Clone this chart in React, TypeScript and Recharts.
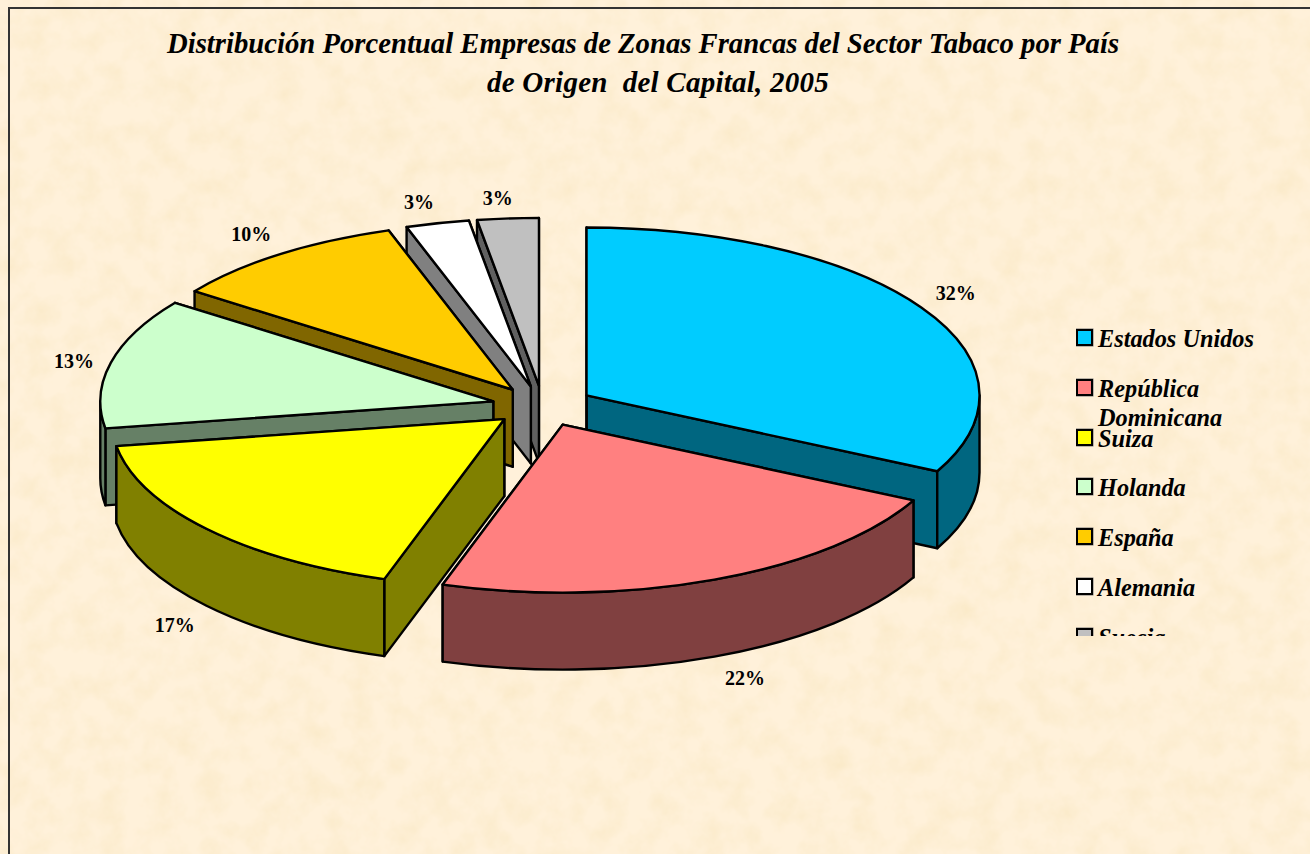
import React from "react";
import { Legend, Pie, PieChart } from "recharts";

const TITLE_LINES = [
  "Distribución Porcentual Empresas de Zonas Francas del Sector Tabaco por País",
  "de Origen  del Capital, 2005",
];

// legend reading order
const COUNTRIES = ["Estados Unidos", "República Dominicana", "Suiza", "Holanda", "España", "Alemania", "Suecia"];
const SHARES = [32.45, 22.49, 17.49, 12.55, 9.9, 2.6, 2.52];
const COLORS = ["#00CCFF", "#FF8080", "#FFFF00", "#CCFFCC", "#FFCC00", "#FFFFFF", "#C0C0C0"];

// slices are painted back to front, going counter-clockwise from the end of the first one
const DRAW_ORDER = [0, 6, 5, 4, 3, 2, 1];
const pieData = DRAW_ORDER.map((i) => ({ name: COUNTRIES[i], value: SHARES[i], fill: COLORS[i] }));

const WIDTH = 1310;
const HEIGHT = 854;
const RX = 393;
const SQUASH = 168 / 393;
const DEPTH = 77;
const EXPLODE_X = 0.13;
const EXPLODE_Y = 0.12;
const START_ANGLE = 90 - (360 * SHARES[0]) / 100;
const SERIF = "'Liberation Serif', serif";

const LABEL_NUDGE: Record<string, [number, number]> = {
  "Estados Unidos": [11, -1],
  "República Dominicana": [20, -2],
  Suiza: [-11, 3],
  Holanda: [-10, 4],
  España: [-13, 0],
  Alemania: [-12, 3],
  Suecia: [-8, 5],
};

const RAD = Math.PI / 180;

function halve(hex: string): string {
  const n = parseInt(hex.slice(1), 16);
  const c = [(n >> 16) & 255, (n >> 8) & 255, n & 255].map((v) => Math.round(v / 2));
  return `rgb(${c[0]},${c[1]},${c[2]})`;
}

function Slice3D(props: any) {
  const { cx, cy, outerRadius: r, startAngle, endAngle, fill } = props;
  const ry = r * SQUASH;
  const mid = ((startAngle + endAngle) / 2) * RAD;
  const ax = cx + EXPLODE_X * r * Math.cos(mid);
  const ay = cy - EXPLODE_Y * ry * Math.sin(mid);
  const px = (deg: number) => ax + r * Math.cos(deg * RAD);
  const py = (deg: number) => ay - ry * Math.sin(deg * RAD);
  const dark = halve(fill);
  const large = endAngle - startAngle > 180 ? 1 : 0;

  const radial = (deg: number) =>
    `M${ax},${ay} L${px(deg)},${py(deg)} L${px(deg)},${py(deg) + DEPTH} L${ax},${ay + DEPTH} Z`;

  // outer wall only where the rim faces the viewer
  const rims: string[] = [];
  for (const [from, to] of [[-180, 0], [180, 360]]) {
    const lo = Math.max(startAngle, from);
    const hi = Math.min(endAngle, to);
    if (hi > lo) {
      rims.push(
        `M${px(lo)},${py(lo)} A${r},${ry} 0 0 0 ${px(hi)},${py(hi)} L${px(hi)},${py(hi) + DEPTH} A${r},${ry} 0 0 1 ${px(lo)},${py(lo) + DEPTH} Z`
      );
    }
  }

  const common = { stroke: "#000", strokeWidth: 2.4, strokeLinejoin: "round" as const };
  return (
    <g>
      <path d={radial(startAngle)} fill={dark} {...common} />
      <path d={radial(endAngle)} fill={dark} {...common} />
      {rims.map((d) => (
        <path key={d} d={d} fill={dark} {...common} />
      ))}
      <path
        d={`M${ax},${ay} L${px(startAngle)},${py(startAngle)} A${r},${ry} 0 ${large} 0 ${px(endAngle)},${py(endAngle)} Z`}
        fill={fill}
        {...common}
      />
    </g>
  );
}

function renderPercent(props: any) {
  const { cx, cy, midAngle, outerRadius: r, percent, name } = props;
  const s = Math.sin(midAngle * RAD);
  const nudge = LABEL_NUDGE[name] ?? [0, 0];
  const x = cx + 1.2 * r * Math.cos(midAngle * RAD) + nudge[0];
  const y = cy - 1.27 * r * SQUASH * s + (s < 0 ? DEPTH : 0) + nudge[1];
  return (
    <text
      key={name}
      x={x}
      y={y}
      textAnchor="middle"
      dominantBaseline="central"
      fontFamily={SERIF}
      fontWeight="bold"
      fontSize={20}
      fill="#000"
    >
      {`${Math.round(percent * 100)}%`}
    </text>
  );
}

function CountryLegend() {
  return (
    <div style={{ position: "relative", width: 200, height: 312, overflow: "hidden" }}>
      {COUNTRIES.map((name, i) => (
        <div key={name} style={{ position: "absolute", left: 0, top: i * 49.8, width: 200 }}>
          <div
            style={{
              position: "absolute",
              left: 0,
              top: 5,
              width: 13,
              height: 13,
              background: COLORS[i],
              border: "2px solid #000",
              boxShadow: "0 0 0 0.5px #777",
            }}
          />
          <div
            style={{
              position: "absolute",
              left: 22,
              top: 0,
              width: 165,
              fontFamily: SERIF,
              fontStyle: "italic",
              fontWeight: "bold",
              fontSize: 24.3,
              lineHeight: "29px",
              color: "#000",
            }}
          >
            {name}
          </div>
        </div>
      ))}
    </div>
  );
}

export default function App() {
  return (
    <div style={{ position: "absolute", left: 0, top: 0, width: WIDTH, height: HEIGHT, overflow: "hidden", background: "#FFF1DA" }}>
      <svg width={WIDTH} height={HEIGHT} style={{ position: "absolute", left: 0, top: 0 }}>
        <filter id="parchment" x="0" y="0" width="100%" height="100%">
          <feTurbulence type="fractalNoise" baseFrequency="0.04" numOctaves="4" seed="5" />
          <feColorMatrix values="0 0 0 0 0.93  0 0 0 0 0.78  0 0 0 0 0.5  0 0 0 0.9 -0.33" />
        </filter>
        <rect width={WIDTH} height={HEIGHT} filter="url(#parchment)" />
      </svg>
      <div
        style={{
          position: "absolute",
          left: 8,
          top: 7,
          width: WIDTH,
          height: HEIGHT,
          borderLeft: "2px solid #333",
          borderTop: "2px solid #333",
        }}
      />
      <div
        style={{
          position: "absolute",
          left: 167,
          top: 24,
          fontFamily: SERIF,
          fontStyle: "italic",
          fontWeight: "bold",
          fontSize: 28.7,
          lineHeight: "39px",
          color: "#000",
          whiteSpace: "pre",
        }}
      >
        {TITLE_LINES[0]}
      </div>
      <div
        style={{
          position: "absolute",
          left: 487,
          top: 62.5,
          fontFamily: SERIF,
          fontStyle: "italic",
          fontWeight: "bold",
          fontSize: 29,
          letterSpacing: 0.25,
          lineHeight: "39px",
          color: "#000",
          whiteSpace: "pre",
        }}
      >
        {TITLE_LINES[1]}
      </div>
      <div style={{ position: "absolute", left: 0, top: 0 }}>
        <PieChart width={WIDTH} height={HEIGHT} margin={{ top: 0, right: 0, bottom: 0, left: 0 }}>
          <Pie
            data={pieData}
            dataKey="value"
            nameKey="name"
            cx={543}
            cy={406}
            innerRadius={0}
            outerRadius={RX}
            startAngle={START_ANGLE}
            endAngle={START_ANGLE + 360}
            shape={Slice3D}
            label={renderPercent}
            labelLine={false}
            isAnimationActive={false}
          />
          <Legend
            content={<CountryLegend />}
            wrapperStyle={{ position: "absolute", left: 1076, top: 324, width: 200, height: 312, bottom: "auto", right: "auto" }}
          />
        </PieChart>
      </div>
    </div>
  );
}
